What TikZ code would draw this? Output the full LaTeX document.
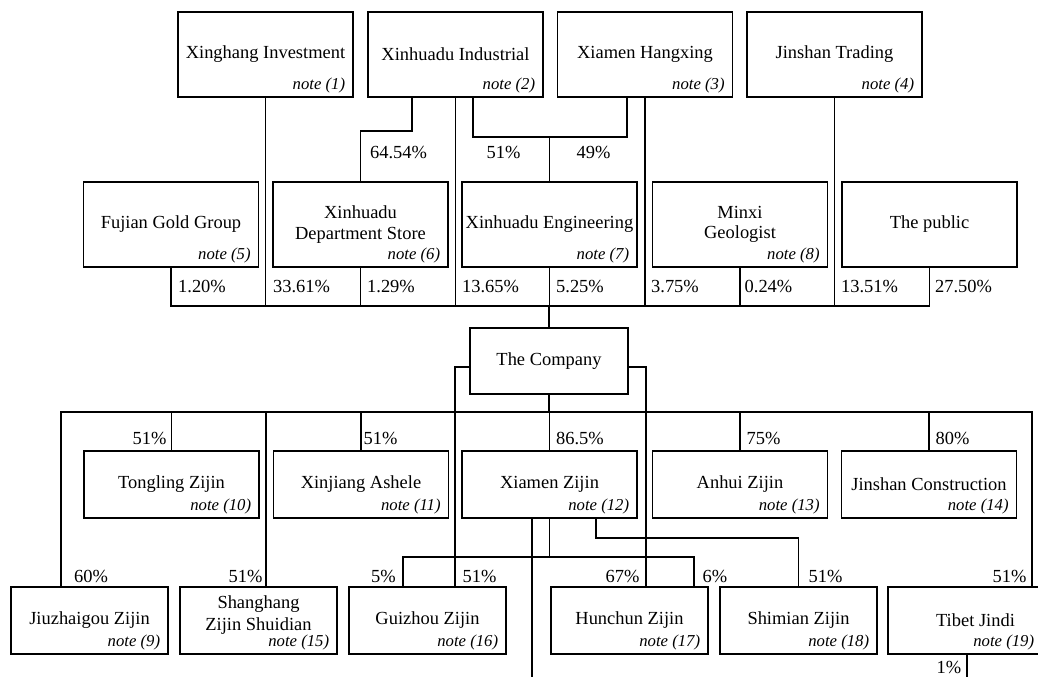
\documentclass[tikz,border=0pt]{standalone}
\usepackage{fontspec}
\setmainfont{Liberation Serif}
\usepackage{tikz}
\usetikzlibrary{shapes}

\begin{document}
\begin{tikzpicture}[scale=1.0000]
	\tikzstyle{every node}=[scale=1.0000]
	
	\definecolor{a000000}{RGB}{0,0,0}
	\tikzstyle{entity}=[draw=a000000, line width=0.6pt, rectangle, inner sep=1pt, align=center, minimum width=3.5000cm, minimum height=1.7000cm, font=\fontsize{10.5}{11.5}\selectfont]
	\tikzstyle{subsidiary}=[entity, minimum height=1.3400cm]
	\tikzstyle{branch}=[subsidiary, minimum width=3.1400cm]
	\tikzstyle{note}=[anchor=south east, inner xsep=4.6pt, inner ysep=2.2pt, font=\fontsize{9.5}{11}\selectfont\itshape]
	\tikzstyle{share}=[inner sep=0pt, font=\fontsize{10.5}{11.5}\selectfont]
	\tikzstyle{link}=[draw=a000000, line width=0.6pt]
	
	\useasboundingbox (0.0000,0.0000) rectangle (20.7600,-13.5400);
	\clip (0.0000,0.0000) rectangle (20.7600,-13.5400);
	
	% shareholders
	\node [entity] (xinghang) at (5.3100,-1.0900) {Xinghang Investment};
	\node [note] (n1) at (xinghang.south east) {note (1)};
	\node [entity] (xhIndustrial) at (9.1100,-1.0900) {Xinhuadu Industrial};
	\node [note] (n2) at (xhIndustrial.south east) {note (2)};
	\node [entity] (xmHangxing) at (12.9000,-1.0900) {Xiamen Hangxing};
	\node [note] (n3) at (xmHangxing.south east) {note (3)};
	\node [entity] (jsTrading) at (16.6900,-1.0900) {Jinshan Trading};
	\node [note] (n4) at (jsTrading.south east) {note (4)};
	
	\node [entity] (fjGold) at (3.4200,-4.4900) {Fujian Gold Group};
	\node [note] (n5) at (fjGold.south east) {note (5)};
	\node [entity] (xhStore) at (7.2100,-4.4900) {Xinhuadu\\Department Store};
	\node [note] (n6) at (xhStore.south east) {note (6)};
	\node [entity] (xhEngineering) at (10.9900,-4.4900) {Xinhuadu Engineering};
	\node [note] (n7) at (xhEngineering.south east) {note (7)};
	\node [entity] (mxGeologist) at (14.8000,-4.4900) {Minxi\\Geologist};
	\node [note] (n8) at (mxGeologist.south east) {note (8)};
	\node [entity] (public) at (18.5900,-4.4900) {The public};
	
	\node [entity, minimum width=3.1600cm, minimum height=1.3200cm] (company) at (10.9800,-7.2200) {The Company};
	
	% subsidiaries
	\node [subsidiary] (tlZijin) at (3.4300,-9.6900) {Tongling Zijin};
	\node [note] (n10) at (tlZijin.south east) {note (10)};
	\node [subsidiary] (xjAshele) at (7.2200,-9.6900) {Xinjiang Ashele};
	\node [note] (n11) at (xjAshele.south east) {note (11)};
	\node [subsidiary] (xmZijin) at (10.9900,-9.6900) {Xiamen Zijin};
	\node [note] (n12) at (xmZijin.south east) {note (12)};
	\node [subsidiary] (ahZijin) at (14.8000,-9.6900) {Anhui Zijin};
	\node [note] (n13) at (ahZijin.south east) {note (13)};
	\node [subsidiary] (jsConstruction) at (18.5800,-9.6900) {Jinshan Construction};
	\node [note] (n14) at (jsConstruction.south east) {note (14)};
	
	\node [branch] (jzgZijin) at (1.7900,-12.4100) {Jiuzhaigou Zijin};
	\node [note] (n9) at (jzgZijin.south east) {note (9)};
	\node [branch, text depth=8pt, font=\fontsize{10.5}{12.5}\selectfont] (shZijin) at (5.1700,-12.4100) {Shanghang\\Zijin Shuidian};
	\node [note] (n15) at (shZijin.south east) {note (15)};
	\node [branch] (gzZijin) at (8.5500,-12.4100) {Guizhou Zijin};
	\node [note] (n16) at (gzZijin.south east) {note (16)};
	\node [branch] (hcZijin) at (12.5900,-12.4100) {Hunchun Zijin};
	\node [note] (n17) at (hcZijin.south east) {note (17)};
	\node [branch] (smZijin) at (15.9700,-12.4100) {Shimian Zijin};
	\node [note] (n18) at (smZijin.south east) {note (18)};
	\node [subsidiary] (tbJindi) at (19.5100,-12.4100) {Tibet Jindi};
	\node [note] (n19) at (20.8500,-13.0800) {note (19)};
	
	% junctions
	\coordinate (k1) at (8.2400,-2.6200);
	\coordinate (k2) at (9.4600,-2.7400);
	\coordinate (k3) at (12.5400,-2.7400);
	\coordinate (busA) at (10.9800,-6.1200);
	\coordinate (busB) at (10.9800,-8.2400);
	\coordinate (busBl) at (1.2200,-8.2400);
	\coordinate (busBr) at (20.6400,-8.2400);
	\coordinate (busBs) at (5.3200,-8.2400);
	\coordinate (cl) at (9.1000,-7.3400);
	\coordinate (cr) at (12.9200,-7.3400);
	\coordinate (busCl) at (8.0600,-11.1400);
	\coordinate (busCr) at (13.8800,-11.1400);
	\coordinate (smK) at (11.9200,-10.7600);
	\coordinate (xmOut) at (10.6400,-13.5400);
	\coordinate (tbOut) at (19.3400,-13.5400);
	
	% holdings above the company
	\draw [link] (xhIndustrial.south -| k1) -- (k1) -| (xhStore.north);
	\draw [link] (xhIndustrial.south -| k2) -- (k2) -- (k3) -- (xmHangxing.south -| k3);
	\draw [link] (xhEngineering.north) -- (xhEngineering.north |- k2);
	\draw [link] (fjGold.south) |- (busA) -| (public.south);
	\draw [link] (xinghang.south) -- (xinghang.south |- busA);
	\draw [link] (xhStore.south) -- (xhStore.south |- busA);
	\draw [link] (xhIndustrial.south) -- (xhIndustrial.south |- busA);
	\draw [link] (xhEngineering.south) -- (xhEngineering.south |- busA);
	\draw [link] (xmHangxing.south) -- (xmHangxing.south |- busA);
	\draw [link] (mxGeologist.south) -- (mxGeologist.south |- busA);
	\draw [link] (jsTrading.south) -- (jsTrading.south |- busA);
	\draw [link] (busA) -- (company.north);
	
	% holdings below the company
	\draw [link] (company.south) -- (busB);
	\draw [link] (jzgZijin.north -| busBl) -- (busBl) -- (busBr) -- (tbJindi.north -| busBr);
	\draw [link] (busBs) -- (shZijin.north -| busBs);
	\draw [link] (tlZijin.north) -- (tlZijin.north |- busB);
	\draw [link] (xjAshele.north) -- (xjAshele.north |- busB);
	\draw [link] (xmZijin.north) -- (xmZijin.north |- busB);
	\draw [link] (ahZijin.north) -- (ahZijin.north |- busB);
	\draw [link] (jsConstruction.north) -- (jsConstruction.north |- busB);
	\draw [link] (company.west |- cl) -- (cl) -- (gzZijin.north -| cl);
	\draw [link] (company.east |- cr) -- (cr) -- (hcZijin.north -| cr);
	\draw [link] (xmZijin.south -| xmOut) -- (xmOut);
	\draw [link] (gzZijin.north -| busCl) -- (busCl) -- (busCr) -- (hcZijin.north -| busCr);
	\draw [link] (xmZijin.south) -- (xmZijin.south |- busCl);
	\draw [link] (xmZijin.south -| smK) -- (smK) -| (smZijin.north);
	\draw [link] (tbJindi.south -| tbOut) -- (tbOut);
	
	% percentages
	\node [share] (p01) at (7.9700,-3.0400) {64.54\%};
	\node [share] (p02) at (10.0700,-3.0400) {51\%};
	\node [share] (p03) at (11.8700,-3.0400) {49\%};
	\node [share] (p04) at (4.0400,-5.7200) {1.20\%};
	\node [share] (p05) at (6.0300,-5.7200) {33.61\%};
	\node [share] (p06) at (7.8200,-5.7200) {1.29\%};
	\node [share] (p07) at (9.8100,-5.7200) {13.65\%};
	\node [share] (p08) at (11.6000,-5.7200) {5.25\%};
	\node [share] (p09) at (13.5000,-5.7200) {3.75\%};
	\node [share] (p10) at (15.3700,-5.7200) {0.24\%};
	\node [share] (p11) at (17.3900,-5.7200) {13.51\%};
	\node [share] (p12) at (19.2700,-5.7200) {27.50\%};
	\node [share] (p13) at (2.9900,-8.7600) {51\%};
	\node [share] (p14) at (7.6100,-8.7600) {51\%};
	\node [share] (p15) at (11.6000,-8.7600) {86.5\%};
	\node [share] (p16) at (15.2700,-8.7600) {75\%};
	\node [share] (p17) at (19.0500,-8.7600) {80\%};
	\node [share] (p18) at (1.8200,-11.5200) {60\%};
	\node [share] (p19) at (4.9100,-11.5200) {51\%};
	\node [share] (p20) at (7.6700,-11.5200) {5\%};
	\node [share] (p21) at (9.5900,-11.5200) {51\%};
	\node [share] (p22) at (12.4500,-11.5200) {67\%};
	\node [share] (p23) at (14.3000,-11.5200) {6\%};
	\node [share] (p24) at (16.5100,-11.5200) {51\%};
	\node [share] (p25) at (20.1900,-11.5200) {51\%};
	\node [share] (p26) at (18.9800,-13.3400) {1\%};

\end{tikzpicture}
\end{document}
